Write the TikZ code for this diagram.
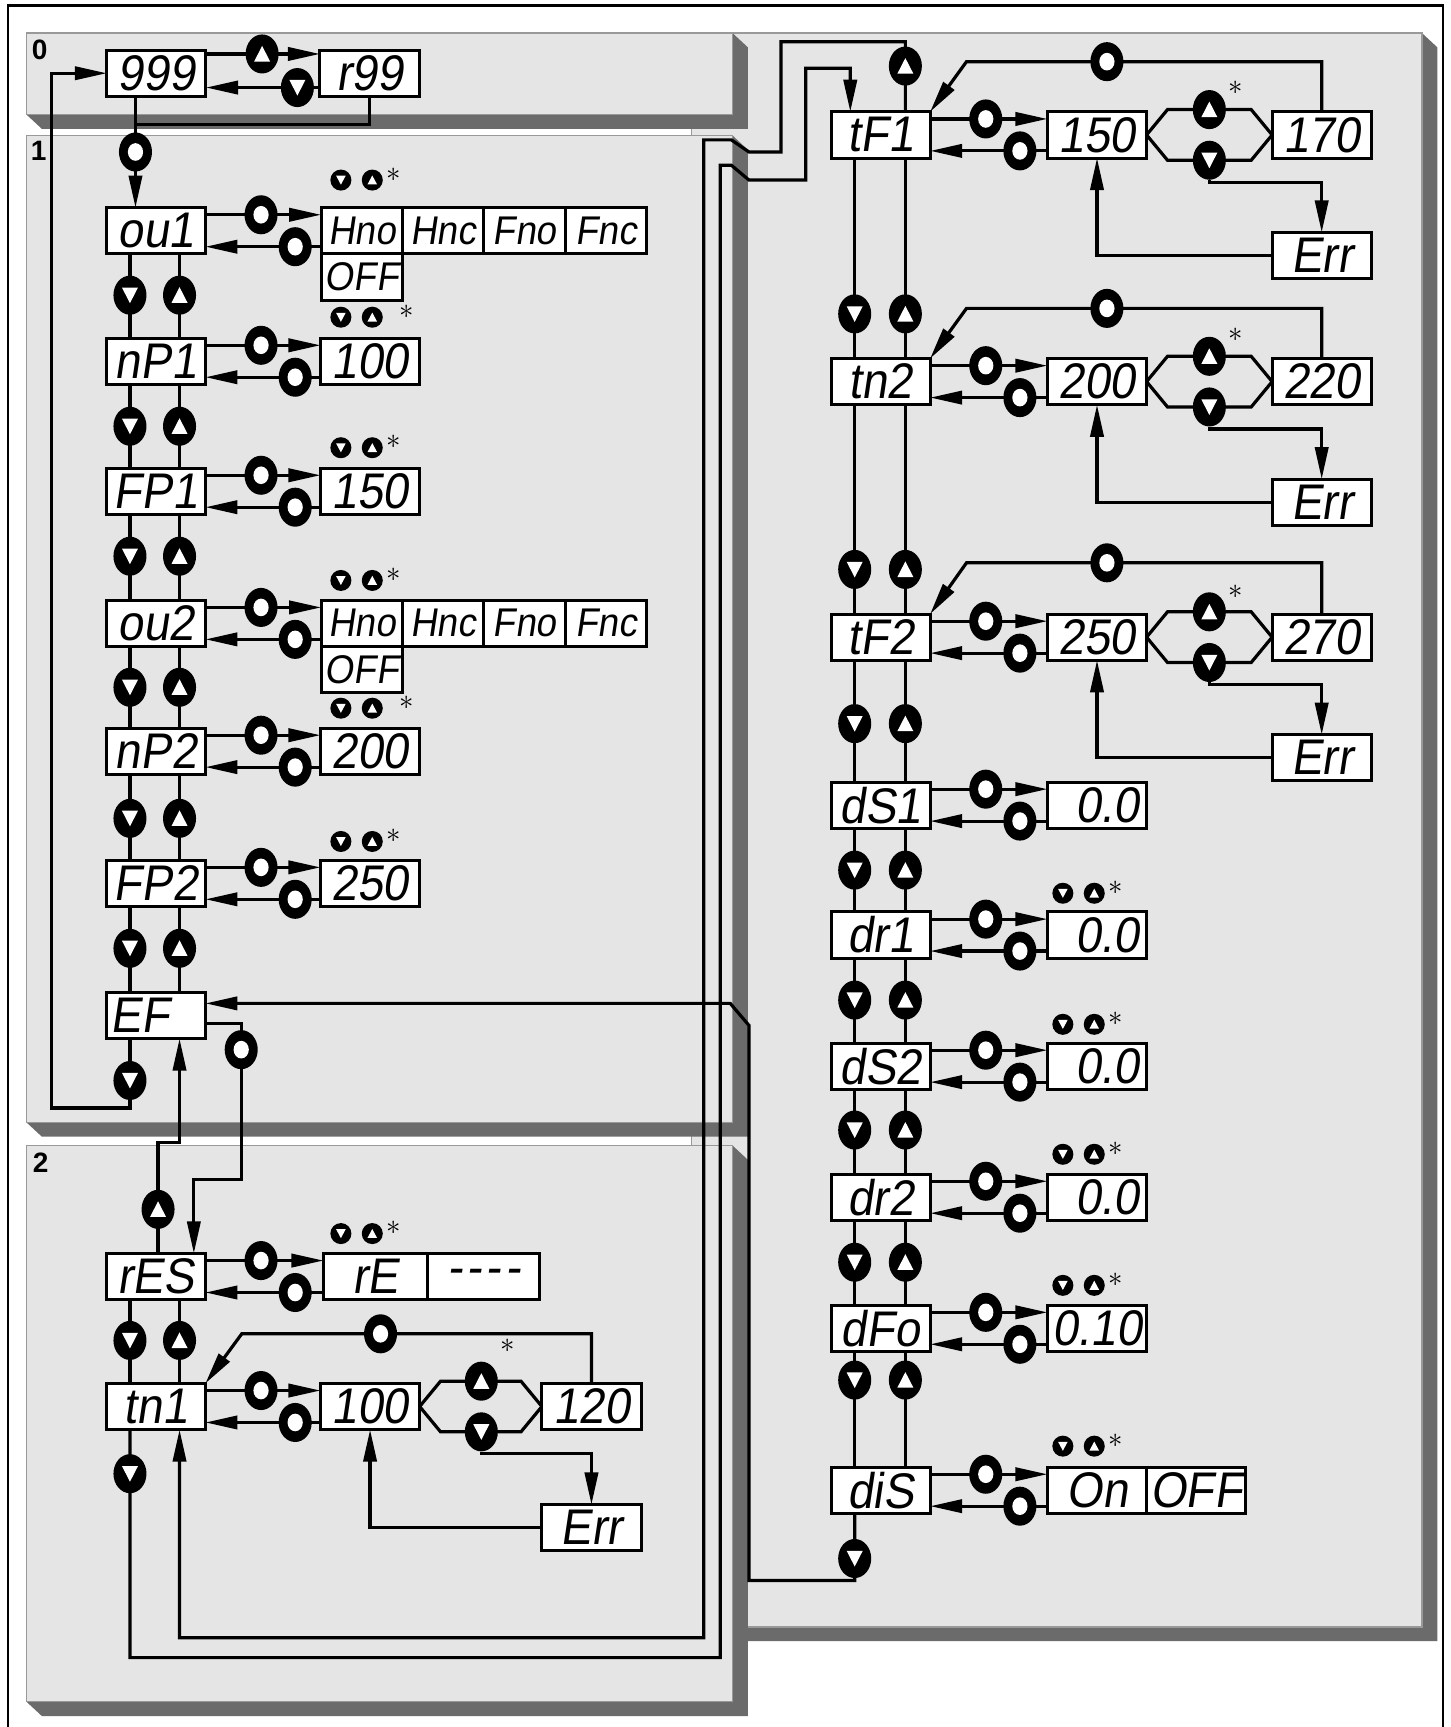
\documentclass[tikz,border=0pt]{standalone}
\usepackage{fontspec}
\usetikzlibrary{arrows.meta,calc,positioning,shapes.geometric}
\newfontfamily\segfont[FakeSlant=0.15,FakeStretch=0.92]{Liberation Sans}
\newfontfamily\labfont{Liberation Sans}
\pgfdeclarelayer{panel}
\pgfdeclarelayer{wire}
\pgfsetlayers{panel,wire,main}
\newcommand{\menupanel}[4]{\fill[panelshade] (#1,#4) -- (#3,#4) -- (#3,#2) -- (#3+14,#2+13) -- (#3+14,#4+13) -- (#1+14,#4+13) -- cycle;\filldraw[panelface] (#1,#2) rectangle (#3,#4);}
\tikzset{
  panelface/.style={fill=black!10, draw=black!40, line width=0.8pt},
  panelshade/.style={fill=black!58},
  conn/.style={line width=1.6pt},
  into/.style={conn, -{Triangle[length=16pt,width=6.6pt]}},
  lcd/.style={draw, fill=white, line width=1.5pt, inner sep=1pt, outer sep=0pt, minimum height=23.1pt},
  parbox/.style={lcd, minimum width=49.5pt, font=\segfont\fontsize{25pt}{25pt}\selectfont},
  valbox/.style={parbox},
  rvalbox/.style={parbox, text width=42pt, align=right},
  optbox/.style={lcd, minimum width=40.6pt, font=\segfont\fontsize{20pt}{20pt}\selectfont},
  btn/.style={ellipse, fill=black, inner sep=0pt, minimum width=16.5pt, minimum height=19.5pt},
  btnup/.style={btn, path picture={\fill[white] ([yshift=4pt]path picture bounding box.center) -- ++(-4pt,-7.8pt) -- ++(8pt,0pt) -- cycle;}},
  btndn/.style={btn, path picture={\fill[white] ([yshift=-4pt]path picture bounding box.center) -- ++(-4pt,7.8pt) -- ++(8pt,0pt) -- cycle;}},
  btnset/.style={btn, path picture={\fill[white] (path picture bounding box.center) ellipse (3.8pt and 4.4pt);}},
  tinybtn/.style={circle, fill=black, inner sep=0pt, minimum size=10.5pt},
  tinyup/.style={tinybtn, path picture={\fill[white] ([yshift=2.3pt]path picture bounding box.center) -- ++(-2.4pt,-4.5pt) -- ++(4.8pt,0pt) -- cycle;}},
  tinydn/.style={tinybtn, path picture={\fill[white] ([yshift=-2.3pt]path picture bounding box.center) -- ++(-2.4pt,4.5pt) -- ++(4.8pt,0pt) -- cycle;}},
  starmark/.style={inner sep=0pt, font=\fontsize{14pt}{14pt}\selectfont},
  panellabel/.style={inner sep=0pt, font=\labfont\bfseries\fontsize{14pt}{14pt}\selectfont}
}
\begin{document}
\begin{tikzpicture}[x=0.55pt, y=-0.55pt]
\useasboundingbox (0,0) rectangle (1317,1568);
\begin{pgfonlayer}{panel}
\menupanel{628}{30}{1291}{1477}
\menupanel{24}{30}{665}{104}
\menupanel{24}{123}{665}{1019}
\menupanel{24}{1040}{665}{1545}
\draw[line width=1.2pt] (7,1568) -- (7,5) -- (1310,5) -- (1310,1568);
\end{pgfonlayer}
\node[panellabel] (lab0) at (36,45) {0};
\node[panellabel] (lab1) at (35,137) {1};
\node[panellabel] (lab2) at (37,1056) {2};

% code entry
\node[parbox] (n999) at (142,66.5) {999};
\node[parbox] (r99) at (335.5,66.5) {r99};
\node[btnup] (up999) at (238,49) {};
\node[btndn] (dn999) at (270,79.5) {};
\node[btnset] (enter) at (123,138) {};
\coordinate (jn) at (123,113);

% left menu
\foreach \nm/\tx/\y in {ou1/ou1/209.5, nP1/nP1/328, FP1/FP1/446, ou2/ou2/566, nP2/nP2/682, FP2/FP2/802, EF/{EF\rule{16pt}{0pt}}/922, rES/rES/1159, tn1/tn1/1277}
  \node[parbox] (\nm) at (141.5,\y) {\tx};
\node[valbox] (nP1v) at (336,328) {100};
\node[valbox] (FP1v) at (336,446) {150};
\node[valbox] (nP2v) at (336,682) {200};
\node[valbox] (FP2v) at (336,802) {250};
\foreach \i/\y in {1/209.5, 2/566} {
  \node[optbox] (hno\i) at (328.5,\y) {Hno};
  \node[optbox, right=0pt of hno\i] (hnc\i) {Hnc};
  \node[optbox, right=0pt of hnc\i] (fno\i) {Fno};
  \node[optbox, right=0pt of fno\i] (fnc\i) {Fnc};
  \node[optbox, below=0pt of hno\i] (off\i) {OFF};
}
\node[parbox, minimum width=52pt] (rE) at (341,1159) {rE};
\node[parbox, minimum width=56pt, right=0pt of rE] (rEdash) {-\hspace{2pt}-\hspace{2pt}-\hspace{2pt}-};
\node[valbox] (tn1v) at (336,1277) {100};
\node[valbox] (tn1h) at (537,1277) {120};
\node[valbox] (tn1e) at (537,1387) {Err};

% right menu
\foreach \nm/\tx/\y in {tF1/tF1/122.5, tn2/tn2/346.5, tF2/tF2/578.5, dS1/dS1/731, dr1/dr1/849, dS2/dS2/968, dr2/dr2/1087, dFo/dFo/1206, diS/diS/1353}
  \node[parbox] (\nm) at (799.5,\y) {\tx};
\foreach \p/\lo/\hi/\y/\ye in {tF1/150/170/122.5/232, tn2/200/220/346.5/456, tF2/250/270/578.5/688} {
  \node[valbox] (\p v) at (996,\y) {\lo};
  \node[valbox] (\p h) at (1200,\y) {\hi};
  \node[valbox] (\p e) at (1200,\ye) {Err};
}
\foreach \p/\y in {dS1/731, dr1/849, dS2/968, dr2/1087}
  \node[rvalbox] (\p v) at (996,\y) {0.0};
\node[valbox] (dFov) at (996,1206) {0.10};
\node[valbox] (diSon) at (996,1353) {On};
\node[valbox, right=0pt of diSon] (diSoff) {OFF};

% up/down between parameters
\foreach \a/\b/\y [count=\i] in {ou1/nP1/268, nP1/FP1/387, FP1/ou2/505, ou2/nP2/624, nP2/FP2/743, FP2/EF/861, rES/tn1/1217} {
  \node[btndn] (ldn\i) at (118,\y) {};
  \node[btnup] (lup\i) at (163,\y) {};
  \begin{pgfonlayer}{wire}
    \draw[conn] (\a.south -| ldn\i) -- (\b.north -| ldn\i);
    \draw[conn] (\a.south -| lup\i) -- (\b.north -| lup\i);
  \end{pgfonlayer}
}
\foreach \a/\b/\y [count=\i] in {tF1/tn2/285, tn2/tF2/517, tF2/dS1/657, dS1/dr1/790, dr1/dS2/908, dS2/dr2/1026, dr2/dFo/1146, dFo/diS/1253} {
  \node[btndn] (rdn\i) at (776,\y) {};
  \node[btnup] (rup\i) at (822,\y) {};
  \begin{pgfonlayer}{wire}
    \draw[conn] (\a.south -| rdn\i) -- (\b.north -| rdn\i);
    \draw[conn] (\a.south -| rup\i) -- (\b.north -| rup\i);
  \end{pgfonlayer}
}

% set / back to each value
\foreach \p/\v in {ou1/hno1, nP1/nP1v, FP1/FP1v, ou2/hno2, nP2/nP2v, FP2/FP2v, rES/rE, tn1/tn1v, tF1/tF1v, tn2/tn2v, tF2/tF2v, dS1/dS1v, dr1/dr1v, dS2/dS2v, dr2/dr2v, dFo/dFov, diS/diSon} {
  \node[btnset] (\p go) at ($(\p)+(95.5,-14.5)$) {};
  \node[btnset] (\p back) at ($(\p)+(126.5,14.5)$) {};
  \begin{pgfonlayer}{wire}
    \draw[into] (\p.east |- \p go) -- (\v.west |- \p go);
    \draw[into] (\v.west |- \p back) -- (\p.east |- \p back);
  \end{pgfonlayer}
}
\foreach \x/\y/\sx [count=\i] in {309.5/163.5/48, 309.5/288/60, 309.5/406.5/48, 309.5/527/48, 309.5/643/60, 309.5/764/48, 309.5/1120/48, 965/811/48, 965/930/48, 965/1048/48, 965/1167/48, 965/1313/48} {
  \node[tinydn] (hdn\i) at (\x,\y) {};
  \node[tinyup] (hup\i) at (\x+28.5,\y) {};
  \node[starmark] (hst\i) at (\x+\sx,\y-5) {$\ast$};
}

% ranges with error
\foreach \p/\xb/\yu/\yd/\xo/\yo/\ys in {tn1/437/1254/1300/345.5/1211/1222, tF1/1098/99.5/145.5/1005/56/80, tn2/1098/323.5/369.5/1005/280/304, tF2/1098/555.5/601.5/1005/511/537} {
  \node[btnup] (\p inc) at (\xb,\yu) {};
  \node[btndn] (\p dec) at (\xb,\yd) {};
  \node[btnset] (\p ok) at (\xo,\yo) {};
  \node[starmark] (\p st) at (\xb+24,\ys) {$\ast$};
  \begin{pgfonlayer}{wire}
    \draw[conn] (\p v.east) -- ++(19,-23) -- ($(\p h.west)+(-19,-23)$) -- (\p h.west);
    \draw[conn] (\p v.east) -- ++(19,23) -- ($(\p h.west)+(-19,23)$) -- (\p h.west);
    \draw[into] (\p h.north) |- ($(\p.north east |- \p ok)+(33,0)$) -- (\p.north east);
    \draw[into] (\p dec) -- ++(0,20) -| (\p e.north);
    \draw[into] (\p e.west) -| (\p v.south);
  \end{pgfonlayer}
}

% jumps between the levels
\node[btnup] (tfup) at (822,60) {};
\node[btndn] (tnout) at (118,1338) {};
\node[btndn] (disout) at (776,1415) {};
\node[btnset] (efset) at (219,953) {};
\node[btnup] (resup) at (143.5,1098) {};
\node[btndn] (efdn) at (118,981) {};
\coordinate (tfin) at (772,62);
\coordinate (efin) at (663,911);
\coordinate (efturn) at (176,1071);
\coordinate (efup) at (163,1037);
\coordinate (loopback) at (47,1006);
\begin{pgfonlayer}{wire}
\draw[into] (n999.east |- up999) -- (r99.west |- up999);
\draw[into] (r99.west |- dn999) -- (n999.east |- dn999);
\draw[conn] (r99.south) |- (jn);
\draw[into] (n999.south -| jn) -- (ou1.north -| jn);
\draw[into] (EF.south -| efdn) |- (loopback) |- (n999.west);
\draw[into] ([yshift=-3.85pt]EF.east) -| (efturn -| efset) -| (rES.north -| efturn);
\draw[into] (rES.north -| resup) |- (efup) -- (EF.south -| efup);
\draw[into] (tF1.north -| tfup) |- (709,38) -- (709,138) -- (680,138) -- (664,127) -- (639,127) -- (639,1487) -| (tn1.south -| lup7);
\draw[into] (tn1.south -| tnout) |- (654,1505) -- (654,150) -- (664,150) -- (680,163.5) -- (731.5,163.5) |- (tfin) -- (tfin |- tF1.north);
\draw[into] (diS.south -| disout) |- (680,1435) -- (680,931) -- (efin) -- (EF.east |- efin);
\end{pgfonlayer}
\end{tikzpicture}
\end{document}
